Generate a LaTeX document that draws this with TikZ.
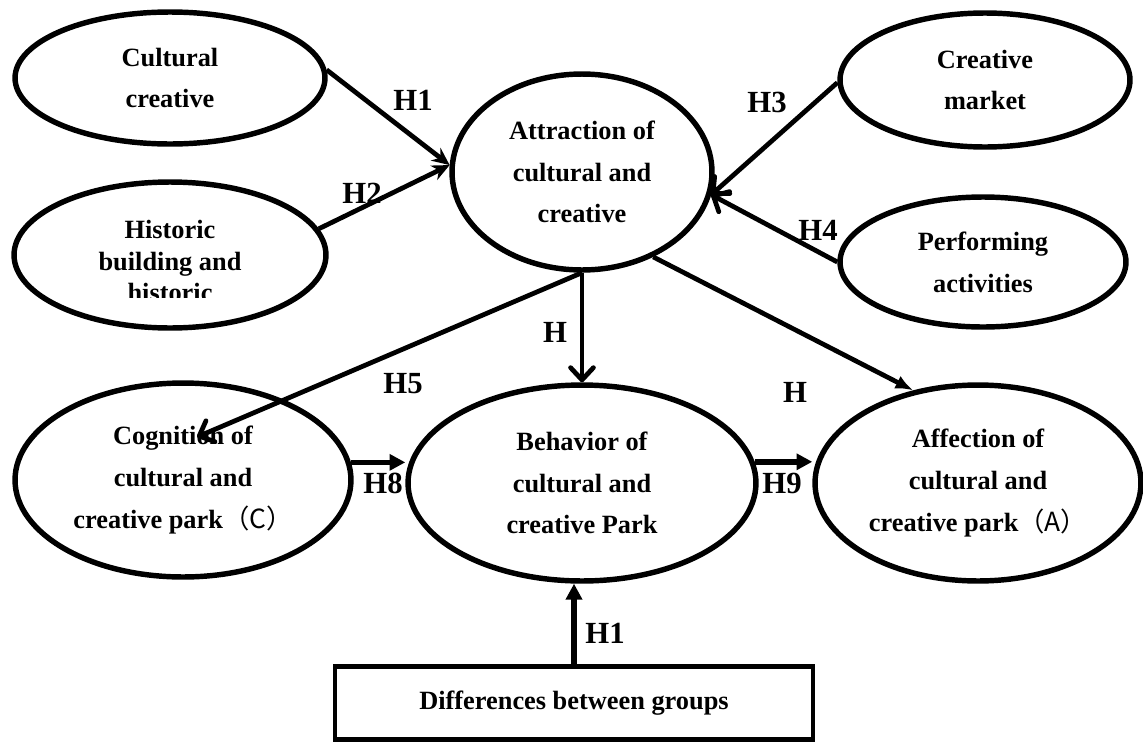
\documentclass[tikz,border=0pt]{standalone}
\usepackage{fontspec}
\setmainfont{Liberation Serif}
\newfontfamily\cjk{Noto Sans CJK SC}
\usetikzlibrary{shapes.geometric, arrows.meta}

\begin{document}
\begin{tikzpicture} [x = 0.02cm, y = -0.02cm, line width = 2.7pt,
  oval/.style = {draw, ellipse, inner sep = 0pt, line width = 3.1pt, align = center, font = \fontsize{15}{23.8}\selectfont\bfseries},
  hyp/.style = {font = \fontsize{17.5}{20}\selectfont\bfseries},
  barb/.style = {-{Straight Barb[length = 7pt, width = 13pt, round]}},
  tri/.style = {line width = 3.2pt, -{Triangle[length = 9pt, width = 9pt]}}]
\useasboundingbox (0, 0) rectangle (1143, 744);
%\tikzstyle{every node}=[draw];
\node [oval, minimum width = 6.2cm, minimum height = 2.64cm] (cult) at (170, 78) {Cultural\\creative};
\node [oval, minimum width = 6.24cm, minimum height = 2.92cm] (hist) at (170, 255) {};
\begin{scope}
\clip (0, 0) rectangle (1143, 297);
\node [align = center, font = \fontsize{15}{18.2}\selectfont\bfseries] (histtxt) at (170, 261) {Historic\\building and\\historic};
\end{scope}
\node [oval, minimum width = 5.2cm, minimum height = 3.92cm] (attr) at (582, 172) {Attraction of\\cultural and\\creative};
\node [oval, minimum width = 5.8cm, minimum height = 2.68cm] (mkt) at (985, 80) {Creative\\market};
\node [oval, minimum width = 5.72cm, minimum height = 2.6cm] (perf) at (983, 262) {Performing\\activities};
\node [oval, minimum width = 6.72cm, minimum height = 3.88cm] (cog) at (183, 480) {Cognition of\\cultural and\\creative park{\cjk\mdseries （C）}};
\node [oval, minimum width = 6.96cm, minimum height = 3.92cm] (beh) at (582, 483) {Behavior of\\cultural and\\creative Park};
\node [oval, minimum width = 6.52cm, minimum height = 3.92cm] (aff) at (978, 483) {Affection of\\cultural and\\creative park{\cjk\mdseries （A）}};
\node [draw, minimum width = 9.56cm, minimum height = 1.46cm, font = \fontsize{15}{18}\selectfont\bfseries] (grp) at (574, 703) {Differences between groups};
\coordinate (cogtip) at (197, 437);
\draw [-{Stealth[length = 10pt, width = 9pt]}] (cult.3) -- (attr.177);
\draw [-{Stealth[length = 10pt, width = 9pt]}] (hist.10) -- (attr.177);
\draw [barb] (mkt.181) -- (attr.-10);
\draw [barb] (perf.west) -- (attr.-10);
\draw [barb] (attr.south) -- (cogtip);
\draw [barb] (attr.south) -- (beh.north);
\draw [-{Latex[length = 10pt, width = 8pt]}] (attr.-50) -- (aff.125);
\draw [tri] (cog.6) -- (beh.west |- cog.6);
\draw [tri] (beh.7) -- (aff.west |- beh.7);
\draw [tri] (grp.north) -- (grp.north |- beh.south);
\node [hyp] (h1) at (413, 100) {H1};
\node [hyp] (h2) at (362, 193) {H2};
\node [hyp] (h3) at (767, 102) {H3};
\node [hyp] (h4) at (818, 230) {H4};
\node [hyp] (h6) at (555, 332) {H};
\node [hyp] (h5) at (403, 384) {H5};
\node [hyp] (h7) at (795, 392) {H};
\node [hyp] (h8) at (383, 483) {H8};
\node [hyp] (h9) at (782, 483) {H9};
\node [hyp] (h10) at (605, 633) {H1};
\end{tikzpicture}
\end{document}
